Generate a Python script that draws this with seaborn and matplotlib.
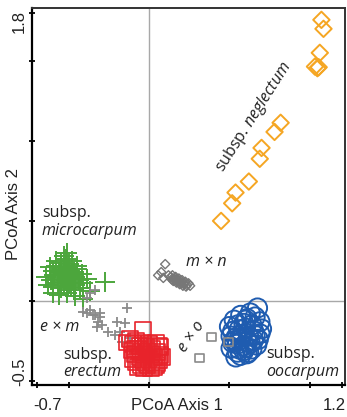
import numpy as np
import pandas as pd
import matplotlib
matplotlib.use("Agg")
import matplotlib.pyplot as plt
import seaborn as sns

# ---------------- data ----------------
neglectum_x = [1.073, 1.086, 1.063, 1.033, 1.048, 1.056, 0.819, 0.781, 0.700, 0.689, 0.621, 0.538, 0.517, 0.448]
neglectum_y = [1.756, 1.700, 1.550, 1.464, 1.454, 1.460, 1.113, 1.056, 0.956, 0.888, 0.746, 0.677, 0.610, 0.500]

micro_x = [-0.62, -0.60, -0.58, -0.56, -0.55, -0.53, -0.52, -0.50, -0.49, -0.47, -0.46, -0.45,
           -0.64, -0.61, -0.59, -0.57, -0.55, -0.54, -0.52, -0.51, -0.50, -0.48, -0.47, -0.44,
           -0.63, -0.60, -0.57, -0.55, -0.53, -0.51, -0.49, -0.46, -0.43, -0.41,
           -0.58, -0.55, -0.52, -0.50, -0.48, -0.45, -0.42, -0.39,
           -0.60, -0.56, -0.51, -0.46, -0.275, -0.51, -0.41, -0.37, -0.53, -0.47]
micro_y = [0.21, 0.19, 0.22, 0.18, 0.20, 0.17, 0.21, 0.19, 0.16, 0.18, 0.15, 0.20,
           0.15, 0.13, 0.16, 0.14, 0.12, 0.15, 0.13, 0.17, 0.11, 0.14, 0.12, 0.13,
           0.10, 0.09, 0.11, 0.08, 0.10, 0.07, 0.09, 0.10, 0.08, 0.11,
           0.25, 0.24, 0.26, 0.23, 0.25, 0.22, 0.17, 0.14,
           0.05, 0.04, 0.05, 0.03, 0.12, 0.30, 0.01, 0.06, 0.28, 0.07]

em_x = [-0.369, -0.338, -0.388, -0.369, -0.413, -0.338, -0.306, -0.319, -0.294, -0.325,
        -0.138, -0.200, -0.256, -0.181, -0.169, -0.119, -0.350, -0.388, -0.306, -0.150, -0.210]
em_y = [0.050, 0.069, 0.019, -0.056, -0.069, -0.088, -0.100, -0.131, -0.150, -0.163,
        -0.044, -0.131, -0.194, -0.194, -0.256, -0.231, -0.088, -0.075, -0.075, -0.140, -0.215]

erectum_x = [-0.04, -0.14, -0.12, -0.10, -0.08, -0.06, -0.04, -0.02, 0.00, 0.02, 0.04, 0.06,
             -0.11, -0.09, -0.07, -0.05, -0.03, -0.01, 0.01, 0.03, 0.05, 0.07,
             -0.10, -0.08, -0.06, -0.04, -0.02, 0.00, 0.02, 0.04, 0.06, 0.08,
             -0.07, -0.05, -0.03, -0.01, 0.01, 0.03, 0.05, -0.09, 0.07]
erectum_y = [-0.18, -0.26, -0.24, -0.27, -0.25, -0.28, -0.26, -0.29, -0.27, -0.30, -0.26, -0.28,
             -0.31, -0.33, -0.30, -0.32, -0.34, -0.31, -0.33, -0.35, -0.32, -0.34,
             -0.36, -0.38, -0.35, -0.37, -0.39, -0.36, -0.38, -0.40, -0.37, -0.35,
             -0.41, -0.40, -0.42, -0.40, -0.42, -0.41, -0.39, -0.30, -0.29]

oocarpum_x = [0.675, 0.630, 0.570, 0.530, 0.610, 0.660, 0.500, 0.550, 0.590, 0.640, 0.690,
              0.520, 0.560, 0.600, 0.650, 0.700, 0.510, 0.540, 0.580, 0.620, 0.660, 0.690,
              0.530, 0.570, 0.610, 0.650, 0.680, 0.550, 0.590, 0.630, 0.670, 0.520,
              0.560, 0.600, 0.640, 0.510, 0.550, 0.590, 0.620, 0.570, 0.610, 0.540, 0.600]
oocarpum_y = [-0.044, -0.075, -0.090, -0.120, -0.110, -0.100, -0.160, -0.150, -0.140, -0.150, -0.130,
              -0.190, -0.180, -0.170, -0.185, -0.175, -0.220, -0.230, -0.210, -0.220, -0.215, -0.205,
              -0.250, -0.240, -0.255, -0.245, -0.240, -0.270, -0.280, -0.265, -0.275, -0.260,
              -0.300, -0.290, -0.300, -0.295, -0.320, -0.310, -0.320, -0.340, -0.330, -0.350, -0.120]

eo_x = [0.388, 0.313, 0.494]
eo_y = [-0.225, -0.356, -0.256]

mn_x = [0.100, 0.075, 0.056, 0.088, 0.120, 0.135, 0.145, 0.155, 0.165, 0.175, 0.185, 0.195,
        0.205, 0.215, 0.225, 0.235, 0.245, 0.255, 0.150, 0.170, 0.190, 0.210, 0.230, 0.140,
        0.160, 0.180, 0.200, 0.220]
mn_y = [0.230, 0.180, 0.160, 0.144, 0.160, 0.150, 0.160, 0.140, 0.150, 0.130, 0.140, 0.120,
        0.130, 0.110, 0.120, 0.100, 0.110, 0.095, 0.125, 0.115, 0.105, 0.095, 0.090, 0.135,
        0.130, 0.125, 0.110, 0.105]

x_ticks = [-0.7, -0.5, 0, 0.5, 1.0, 1.2]
y_ticks = [-0.5, 0, 0.5, 1.0, 1.5, 1.8]

# ---------------- styling ----------------
sns.set_theme(style="white")
plt.rcParams['font.family'] = ['Liberation Sans', 'DejaVu Sans']
plt.rcParams['mathtext.fontset'] = 'custom'
plt.rcParams['mathtext.rm'] = 'Open Sans'
plt.rcParams['mathtext.it'] = 'Open Sans:italic'

fig = plt.figure(figsize=(3.47, 4.17), dpi=100)
ax = fig.add_axes([32/347, 1 - 385/417, (345 - 32)/347, (385 - 8)/417])

ax.axhline(0, color="#a8a8a8", lw=1.0, zorder=0)
ax.axvline(0, color="#a8a8a8", lw=1.0, zorder=0)

orange = "#f5a623"
green = "#4ca63c"
gray = "#8a8a8a"
red = "#e8232b"
blue = "#1f5cb0"

sns.scatterplot(x=micro_x, y=micro_y, marker="+", s=200, color=green, linewidth=1.4, ax=ax, zorder=3)
sns.scatterplot(x=em_x, y=em_y, marker="+", s=60, color=gray, linewidth=1.3, ax=ax, zorder=3)
sns.scatterplot(x=erectum_x, y=erectum_y, marker="s", s=130, facecolor="none", edgecolor=red, linewidth=1.2, ax=ax, zorder=3)
sns.scatterplot(x=oocarpum_x, y=oocarpum_y, marker="o", s=190, facecolor="none", edgecolor=blue, linewidth=1.4, ax=ax, zorder=3)
sns.scatterplot(x=eo_x, y=eo_y, marker="s", s=40, facecolor="none", edgecolor=gray, linewidth=1.2, ax=ax, zorder=4)
sns.scatterplot(x=mn_x, y=mn_y, marker="D", s=22, facecolor="none", edgecolor="#777777", linewidth=1.0, ax=ax, zorder=3)
sns.scatterplot(x=neglectum_x, y=neglectum_y, marker="D", s=70, facecolor="none", edgecolor=orange, linewidth=1.4, ax=ax, zorder=3)

ax.set_xlim(-0.73, 1.22)
ax.set_ylim(-0.525, 1.83)

for side in ["left", "bottom"]:
    ax.spines[side].set_color("black")
    ax.spines[side].set_linewidth(1.6)
for side in ["top", "right"]:
    ax.spines[side].set_color("#333333")
    ax.spines[side].set_linewidth(1.4)

ax.set_xticks(x_ticks)
ax.set_yticks(y_ticks)
ax.set_xticklabels([])
ax.set_yticklabels([])
ax.tick_params(axis="both", which="both", direction="inout", length=5, width=1.3, color="black",
               bottom=True, left=True, top=False, right=False)

tfs = 12
tc = "#222222"
fig.text(33/347, 1 - 406/417, "-0.7", ha="left", va="center", fontsize=tfs, color=tc)
fig.text(346/347, 1 - 406/417, "1.2", ha="right", va="center", fontsize=tfs, color=tc)
fig.text(19/347, 1 - 10/417, "1.8", ha="center", va="top", rotation=90, fontsize=tfs, color=tc)
fig.text(20/347, 1 - 386/417, "-0.5", ha="center", va="bottom", rotation=90, fontsize=tfs, color=tc)
fig.text(177/347, 1 - 406/417, "PCoA Axis 1", ha="center", va="center", fontsize=tfs, color=tc)
fig.text(14/347, 1 - 214/417, "PCoA Axis 2", ha="center", va="center", rotation=90, fontsize=tfs, color=tc)

afam = ['Open Sans', 'DejaVu Sans']
afs = 11.5


def fx(px):
    return (px - 149) / 160


def fy(py):
    return (301 - py) / 160


def lab(px, py, s, italic=False, **kw):
    ax.text(fx(px), fy(py), s, family=afam, fontsize=afs, style="italic" if italic else "normal",
            color=tc, **{"ha": "left", "va": "center", **kw})


lab(42, 213, "subsp.")
lab(42, 231, "microcarpum", italic=True)
lab(40, 327, "e × m", italic=True)
lab(63, 355, "subsp.")
lab(63, 372, "erectum", italic=True)
lab(186, 262, "m × n", italic=True)
lab(191, 337, "e × o", italic=True, ha="center", rotation=55, rotation_mode="anchor")
lab(266, 354, "subsp.")
lab(266, 372, "oocarpum", italic=True)
lab(253, 117, r"subsp. $\mathit{neglectum}$", ha="center", rotation=57.5, rotation_mode="anchor")

fig.savefig("out.png", dpi=100)
